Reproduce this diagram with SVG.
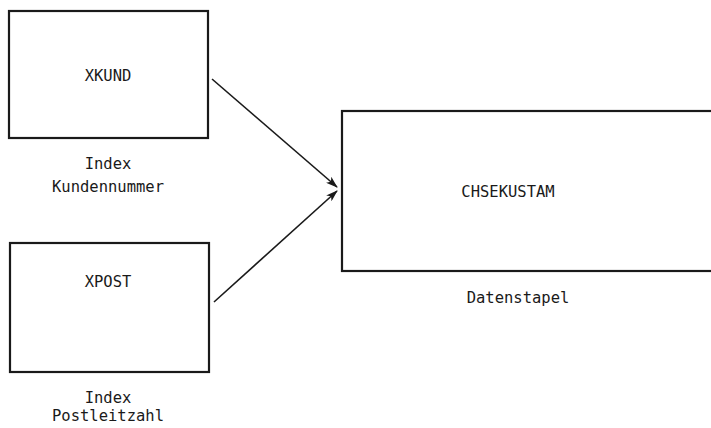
<svg xmlns="http://www.w3.org/2000/svg" width="711" height="428" viewBox="0 0 711 428">
  <style>
    .box { fill: #ffffff; stroke: #1a1a1a; stroke-width: 2.2; }
    .lbl { font-family: "DejaVu Sans Mono", "Liberation Mono", monospace; font-size: 15.5px; fill: #1a1a1a; text-anchor: middle; }
    .edge { fill: none; stroke: #1a1a1a; stroke-width: 1.6; }
  </style>
  <defs>
    <marker id="arrow" viewBox="0 0 12 8" refX="11" refY="4" markerWidth="12" markerHeight="8" markerUnits="userSpaceOnUse" orient="auto">
      <path d="M0,0 L12,4 L0,8 L3,4 Z" fill="#1a1a1a"/>
    </marker>
  </defs>
  <rect width="711" height="428" fill="#ffffff"/>

  <g id="xkund">
    <rect class="box" x="9" y="11" width="199" height="127"/>
    <text class="lbl" x="108" y="81">XKUND</text>
    <text class="lbl" x="108" y="169">Index</text>
    <text class="lbl" x="108" y="192">Kundennummer</text>
  </g>

  <g id="xpost">
    <rect class="box" x="10" y="243" width="199" height="129"/>
    <text class="lbl" x="108" y="287">XPOST</text>
    <text class="lbl" x="108" y="403">Index</text>
    <text class="lbl" x="108" y="421">Postleitzahl</text>
  </g>

  <g id="chsekustam">
    <rect class="box" x="342" y="111" width="380" height="160"/>
    <text class="lbl" x="508" y="197">CHSEKUSTAM</text>
    <text class="lbl" x="518" y="303">Datenstapel</text>
  </g>

  <g id="connectors">
    <line class="edge" x1="212" y1="79" x2="337" y2="187" marker-end="url(#arrow)"/>
    <line class="edge" x1="214" y1="302" x2="337" y2="191" marker-end="url(#arrow)"/>
  </g>
</svg>
